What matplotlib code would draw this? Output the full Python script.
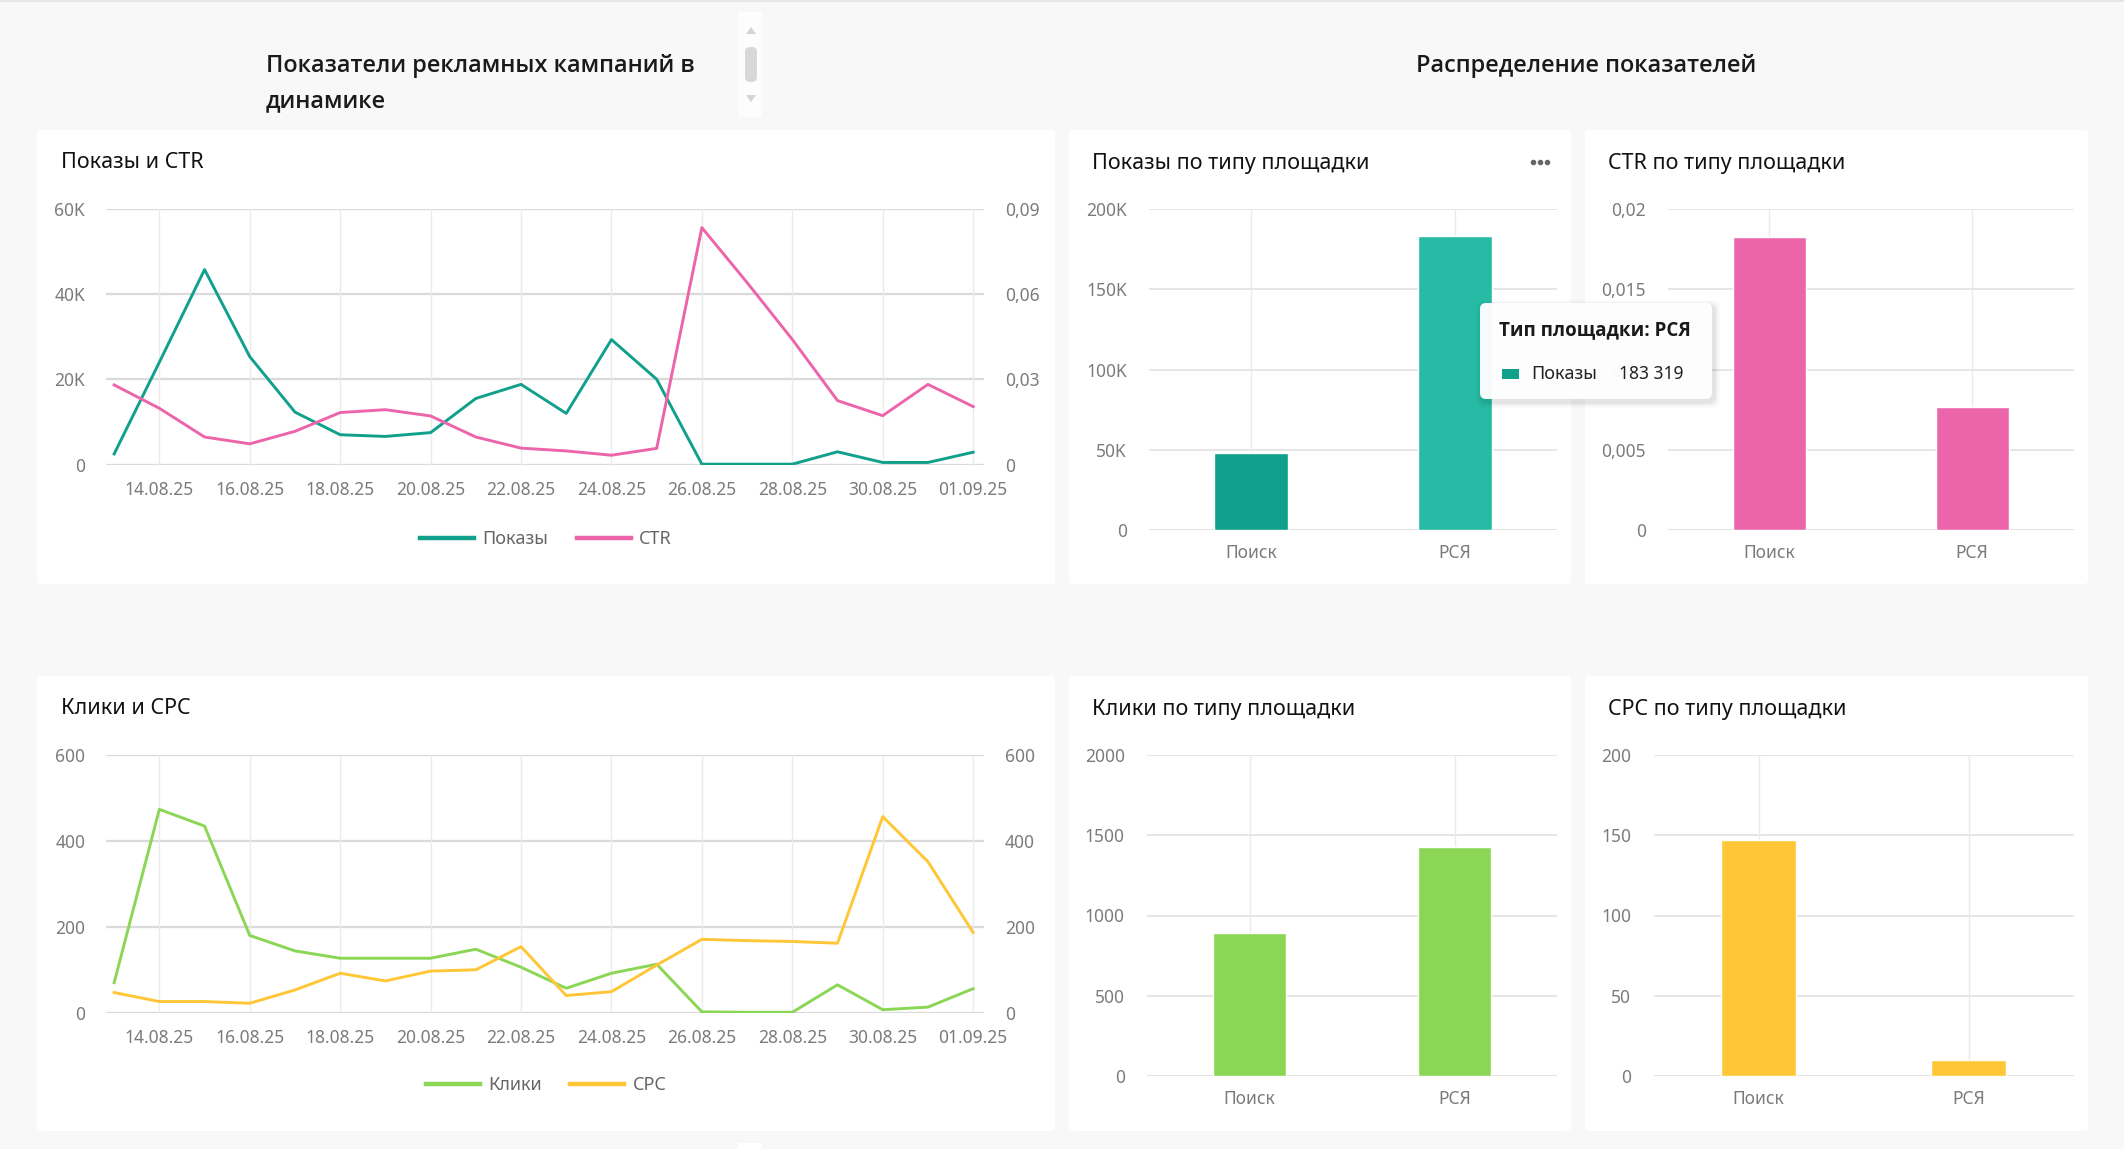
import matplotlib
matplotlib.use('Agg')
import matplotlib.pyplot as plt
from matplotlib.patches import FancyBboxPatch, Rectangle, Polygon
from matplotlib.lines import Line2D
from matplotlib.ticker import FuncFormatter, FixedLocator

plt.rcParams['font.family'] = ['Noto Sans', 'DejaVu Sans']
BOLD_FAMILY = ['Open Sans', 'Lato', 'Roboto', 'DejaVu Sans']

# ---------------- data ----------------
dates = ['13.08.25', '14.08.25', '15.08.25', '16.08.25', '17.08.25', '18.08.25',
         '19.08.25', '20.08.25', '21.08.25', '22.08.25', '23.08.25', '24.08.25',
         '25.08.25', '26.08.25', '27.08.25', '28.08.25', '29.08.25', '30.08.25',
         '31.08.25', '01.09.25']
shows = [2500, 24000, 45700, 25300, 12300, 7000, 6600, 7500, 15500, 18800,
         12000, 29300, 20000, 100, 100, 100, 3000, 500, 500, 2900]
ctr = [0.0280, 0.0198, 0.0097, 0.0073, 0.0117, 0.0183, 0.0193, 0.0171, 0.0097, 0.0058,
       0.0048, 0.0033, 0.0057, 0.0833, 0.0640, 0.0440, 0.0225, 0.0172, 0.0282, 0.0204]
clicks = [70, 474, 435, 180, 144, 127, 127, 127, 148, 106,
          57, 92, 113, 2, 1, 1, 65, 7, 13, 56]
cpc = [47, 26, 26, 22, 53, 92, 74, 97, 100, 154,
       40, 49, 111, 171, 168, 166, 162, 457, 352, 187]

platforms = ['Поиск', 'РСЯ']
shows_by_platform = [48000, 183319]
ctr_by_platform = [0.0183, 0.0077]
clicks_by_platform = [891, 1426]
cpc_by_platform = [147, 9.6]

# ---------------- style ----------------
W, H = 2124, 1149
BG = '#f8f8f8'
TEAL = '#10a08c'
TEAL_LIGHT = '#27bba6'
PINK = '#ec65aa'
GREEN = '#8bd655'
YELLOW = '#ffc636'
TICK = '#7b7b7b'
HGRID = '#dadada'
VGRID = '#ebebeb'
TICK_FS = 12.5

fig = plt.figure(figsize=(W / 100, H / 100), dpi=100, facecolor=BG)

bg = fig.add_axes([0, 0, 1, 1], zorder=-10)
bg.set_xlim(0, W)
bg.set_ylim(H, 0)
bg.axis('off')

fg = fig.add_axes([0, 0, 1, 1], zorder=20)
fg.set_xlim(0, W)
fg.set_ylim(H, 0)
fg.axis('off')
fg.patch.set_alpha(0)


def panel(x0, y0, x1, y1):
    bg.add_patch(FancyBboxPatch((x0, y0), x1 - x0, y1 - y0,
                                boxstyle='round,pad=0,rounding_size=4',
                                fc='white', ec='none'))


def px_axes(x0, y0, x1, y1, **kw):
    return fig.add_axes([x0 / W, 1 - y1 / H, (x1 - x0) / W, (y1 - y0) / H], **kw)


# top border line
bg.add_patch(Rectangle((0, 0), W, 2, fc='#e6e6e6', ec='none'))

# header texts
HEAD_FS = 16.9
bg.text(266, 66, 'Показатели рекламных кампаний в', fontsize=HEAD_FS, fontweight='semibold',
        family=BOLD_FAMILY, color='#1a1a1a', va='center', ha='left')
bg.text(266, 101, 'динамике', fontsize=HEAD_FS, fontweight='semibold',
        family=BOLD_FAMILY, color='#1a1a1a', va='center', ha='left')
bg.text(1586, 66, 'Распределение показателей', fontsize=HEAD_FS, fontweight='semibold',
        family=BOLD_FAMILY, color='#1a1a1a', va='center', ha='center')

# scrollbar widget
bg.add_patch(Rectangle((738, 12), 24, 105, fc='#fdfdfd', ec='none'))
bg.add_patch(FancyBboxPatch((745, 47), 12, 35, boxstyle='round,pad=0,rounding_size=5',
                            fc='#d8d8d8', ec='none'))
bg.add_patch(Polygon([(746, 34), (756, 34), (751, 27)], closed=True, fc='#d4d4d4', ec='none'))
bg.add_patch(Polygon([(746, 95), (756, 95), (751, 102)], closed=True, fc='#d4d4d4', ec='none'))
bg.add_patch(Rectangle((738, 1143), 24, 6, fc='white', ec='none'))

# panels
panel(37, 130, 1055, 584)
panel(1069, 130, 1571, 584)
panel(1585, 130, 2088, 584)
panel(37, 676, 1055, 1131)
panel(1069, 676, 1571, 1131)
panel(1585, 676, 2088, 1131)

TITLE_FS = 15.5
bg.text(61, 163, 'Показы и CTR', fontsize=TITLE_FS, color='#111', va='center')
bg.text(1092, 163, 'Показы по типу площадки', fontsize=TITLE_FS, color='#111', va='center')
bg.text(1608, 163, 'CTR по типу площадки', fontsize=TITLE_FS, color='#111', va='center')
bg.text(61, 709, 'Клики и CPC', fontsize=TITLE_FS, color='#111', va='center')
bg.text(1092, 709, 'Клики по типу площадки', fontsize=TITLE_FS, color='#111', va='center')
bg.text(1608, 709, 'CPC по типу площадки', fontsize=TITLE_FS, color='#111', va='center')
bg.plot([1532.5, 1539.5, 1546.5], [162, 162, 162], 'o', ms=3, color='#666')


def k_fmt(v, p):
    return '0' if v == 0 else f'{int(round(v / 1000))}K'


def dec_fmt(v, p):
    return '0' if v == 0 else ('%g' % round(v, 4)).replace('.', ',')


def int_fmt(v, p):
    return f'{int(round(v))}'


def style_common(ax):
    ax.set_facecolor('none')
    for s in ax.spines.values():
        s.set_visible(False)
    ax.tick_params(length=0, labelsize=TICK_FS, labelcolor=TICK)


def line_chart(box, y1vals, y2vals, c1, c2, ylim1, yt1, f1, ylim2, yt2, f2, names, legend_y):
    ax = px_axes(*box)
    style_common(ax)
    x = list(range(len(dates)))
    ax.set_xlim(-0.18, len(dates) - 1 + 0.24)
    ax.set_ylim(*ylim1)
    ax.yaxis.set_major_locator(FixedLocator(yt1))
    ax.yaxis.set_major_formatter(FuncFormatter(f1))
    tick_idx = list(range(1, len(dates), 2))
    ax.set_xticks(tick_idx)
    ax.set_xticklabels([dates[i] for i in tick_idx])
    ax.tick_params(axis='y', pad=15)
    ax.tick_params(axis='x', pad=11.5)
    for v in yt1:
        ax.axhline(v, color=HGRID, lw=1.6, zorder=0)
    for i in tick_idx:
        ax.axvline(i, color=VGRID, lw=1.0, zorder=0)
    ax.plot(x, y1vals, color=c1, lw=2.1, zorder=3, solid_joinstyle='round')
    ax2 = ax.twinx()
    style_common(ax2)
    ax2.set_ylim(*ylim2)
    ax2.yaxis.set_major_locator(FixedLocator(yt2))
    ax2.yaxis.set_major_formatter(FuncFormatter(f2))
    ax2.tick_params(axis='y', pad=15)
    ax2.plot(x, y2vals, color=c2, lw=2.1, zorder=3, solid_joinstyle='round')
    handles = [Line2D([], [], color=c1, lw=3.2), Line2D([], [], color=c2, lw=3.2)]
    leg = fig.legend(handles, names, loc='center', bbox_to_anchor=(546 / W, 1 - legend_y / H),
                     ncol=2, frameon=False, fontsize=13, handlelength=3.0,
                     handletextpad=0.45, columnspacing=1.6)
    for t in leg.get_texts():
        t.set_color('#666')
    return ax, ax2


line_chart((106, 208.6, 984, 464.6), shows, ctr, TEAL, PINK,
           (0, 60000), [0, 20000, 40000, 60000], k_fmt,
           (0, 0.09), [0, 0.03, 0.06, 0.09], dec_fmt,
           ['Показы', 'CTR'], 539)

line_chart((106, 755.3, 984, 1012.7), clicks, cpc, GREEN, YELLOW,
           (0, 600), [0, 200, 400, 600], int_fmt,
           (0, 600), [0, 200, 400, 600], int_fmt,
           ['Клики', 'CPC'], 1085)


def bar_chart(box, vals, colors, ylim, yt, fmt):
    ax = px_axes(*box)
    style_common(ax)
    x = list(range(len(platforms)))
    ax.set_xlim(-0.5, len(platforms) - 0.5)
    ax.set_ylim(*ylim)
    ax.yaxis.set_major_locator(FixedLocator(yt))
    ax.yaxis.set_major_formatter(FuncFormatter(fmt))
    ax.set_xticks(x)
    ax.set_xticklabels(platforms)
    ax.tick_params(axis='y', pad=16)
    ax.tick_params(axis='x', pad=10)
    for v in yt:
        ax.axhline(v, color=HGRID if v == 0 else '#e6e6e6', lw=1.8 if v == 0 else 1.4, zorder=0)
    for i in x:
        ax.axvline(i, color=VGRID, lw=1.0, zorder=0)
    ax.bar(x, vals, width=0.36, color=colors, edgecolor='white', linewidth=1.0, zorder=2)
    return ax


bar_chart((1149, 209.3, 1557, 530), shows_by_platform, [TEAL, TEAL_LIGHT],
          (0, 200000), [0, 50000, 100000, 150000, 200000], k_fmt)
bar_chart((1668, 209.3, 2073.5, 530), ctr_by_platform, [PINK, PINK],
          (0, 0.02), [0, 0.005, 0.01, 0.015, 0.02], dec_fmt)
bar_chart((1147, 755.3, 1557, 1075.7), clicks_by_platform, [GREEN, GREEN],
          (0, 2000), [0, 500, 1000, 1500, 2000], int_fmt)
bar_chart((1653.5, 755.3, 2073.5, 1075.7), cpc_by_platform, [YELLOW, YELLOW],
          (0, 200), [0, 50, 100, 150, 200], int_fmt)

# tooltip
for i, a in enumerate([0.05, 0.035, 0.02]):
    d = 2 + i * 2
    fg.add_patch(FancyBboxPatch((1480 - d + 2, 303 - d + 3), 232 + 2 * d, 96 + 2 * d,
                                boxstyle='round,pad=0,rounding_size=8',
                                fc='black', ec='none', alpha=a))
fg.add_patch(FancyBboxPatch((1480, 303), 232, 96, boxstyle='round,pad=0,rounding_size=6',
                            fc='white', ec='none', alpha=0.96))
fg.text(1499, 330, 'Тип площадки: РСЯ', fontsize=13.5, fontweight='bold', family=BOLD_FAMILY,
        color='#1a1a1a', va='center', ha='left')
fg.add_patch(Rectangle((1502, 369), 17, 10, fc=TEAL, ec='none'))
fg.text(1531, 374, 'Показы', fontsize=13, color='#222', va='center', ha='left')
fg.text(1619, 374, '183 319', fontsize=12.5, color='#222', va='center', ha='left')

fig.savefig('out.png', dpi=100, facecolor=BG)
